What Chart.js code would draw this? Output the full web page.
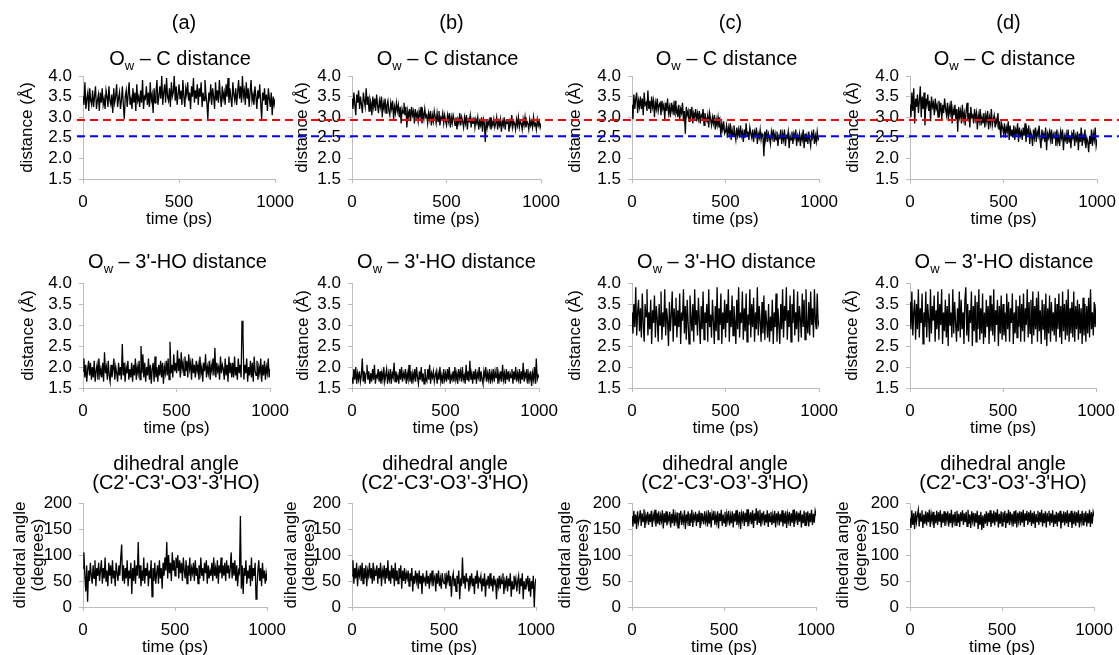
<!DOCTYPE html>
<html>
<head>
<meta charset="utf-8">
<script src="https://cdn.jsdelivr.net/npm/chart.js@4.4.1/dist/chart.umd.min.js"></script>
<style>
html, body { margin: 0; padding: 0; background: #fff; overflow: hidden; width: 1119px; height: 655px; }
body { position: relative; font-family: "Liberation Sans", Arial, sans-serif; color: #000; }
.lbl, .ttl { position: absolute; text-align: center; font-size: 20px; line-height: 20px; white-space: nowrap; width: 300px; }
.ttl sub { font-size: 13px; vertical-align: -5px; line-height: 0; }
.ttl.two { line-height: 19px; }
</style>
</head>
<body>
<script>
// time axis (ps), one sample every 5 ps
const TIME = [0,5,10,15,20,25,30,35,40,45,50,55,60,65,70,75,80,85,90,95,
  100,105,110,115,120,125,130,135,140,145,150,155,160,165,170,175,180,185,190,195,
  200,205,210,215,220,225,230,235,240,245,250,255,260,265,270,275,280,285,290,295,
  300,305,310,315,320,325,330,335,340,345,350,355,360,365,370,375,380,385,390,395,
  400,405,410,415,420,425,430,435,440,445,450,455,460,465,470,475,480,485,490,495,
  500,505,510,515,520,525,530,535,540,545,550,555,560,565,570,575,580,585,590,595,
  600,605,610,615,620,625,630,635,640,645,650,655,660,665,670,675,680,685,690,695,
  700,705,710,715,720,725,730,735,740,745,750,755,760,765,770,775,780,785,790,795,
  800,805,810,815,820,825,830,835,840,845,850,855,860,865,870,875,880,885,890,895,
  900,905,910,915,920,925,930,935,940,945,950,955,960,965,970,975,980,985,990,995,1000];

const TIME_TICKS = [0, 500, 1000];
const DIST_TICKS = [1.5, 2.0, 2.5, 3.0, 3.5, 4.0];
const ANGLE_TICKS = [0, 50, 100, 150, 200];
const COLUMN_LABELS = ['(a)', '(b)', '(c)', '(d)'];
const ROW_TITLES = ['O<sub>w</sub> – C distance', 'O<sub>w</sub> – 3\'-HO distance', 'dihedral angle<br>(C2\'-C3\'-O3\'-3\'HO)'];
const RED_LEVEL = 2.93;
const BLUE_LEVEL = 2.54;

// row 1: Ow - C distance (Å)
const OWC_A = [3.5,3.3,3.85,3.2,3.45,3.6,3.15,3.7,3.4,3.3,
  3.65,3.25,3.5,3.75,3.2,3.4,3.55,3.15,3.6,3.35,
  3.7,3.3,3.45,3.2,3.65,3.5,3.25,3.75,3.4,3.3,
  3.55,3.1,3.7,3.35,3.5,3.8,3.25,3.45,3.6,3.2,
  3.4,3.75,3.3,2.95,3.5,3.65,3.25,3.55,3.85,3.3,
  3.45,3.2,3.7,3.35,3.6,3.15,3.8,3.4,3.5,3.25,
  3.65,3.35,3.9,3.2,3.5,3.45,3.75,3.3,3.6,3.25,
  3.85,3.4,3.55,3.1,3.7,3.35,3.6,3.9,3.3,3.5,
  3.75,3.45,4.0,3.3,3.6,3.8,3.35,3.95,3.5,3.4,
  3.7,3.25,3.85,3.5,3.6,4.0,3.4,3.75,3.3,3.55,
  3.8,3.45,3.65,3.3,3.9,3.5,3.25,3.7,3.55,3.85,
  3.4,3.6,3.2,3.75,3.5,3.95,3.35,3.65,3.45,3.8,
  3.3,3.7,3.5,3.85,3.25,3.6,3.4,3.9,3.55,3.35,
  2.95,3.6,3.45,3.8,3.3,3.7,3.5,3.2,3.85,3.4,
  3.65,3.35,3.9,3.5,3.25,3.75,3.45,3.6,3.3,3.8,
  3.5,3.95,3.35,3.7,3.45,3.25,3.85,3.55,3.4,3.7,
  3.3,3.6,3.9,3.45,3.75,3.35,4.0,3.5,3.65,3.3,
  3.85,3.45,3.7,3.25,3.6,3.9,3.4,3.55,3.3,3.75,
  3.5,3.2,3.65,3.45,3.8,3.35,2.95,3.6,3.4,3.7,
  3.3,3.55,3.15,3.7,3.45,3.25,3.6,3.05,3.5,3.3,
  3.45];
const OWC_B = [3.45,3.2,3.6,3.3,3.05,3.55,3.35,3.65,3.2,3.5,
  3.3,3.1,3.6,3.4,3.25,3.7,3.3,3.5,3.15,3.45,
  3.35,3.05,3.5,3.25,3.45,3.15,3.55,3.3,3.1,3.4,
  3.25,3.5,3.0,3.35,3.2,3.45,3.1,3.3,3.4,3.15,
  3.05,3.35,3.2,3.4,2.95,3.25,3.1,3.35,3.15,3.3,
  3.0,3.25,2.85,3.2,3.1,3.35,3.05,3.25,2.75,3.15,
  3.0,3.2,2.9,3.25,3.05,3.15,2.85,3.2,3.0,3.1,
  2.9,3.15,3.0,3.25,2.85,3.1,2.95,3.2,3.0,3.05,
  2.85,3.1,2.95,3.15,2.8,3.05,2.9,3.15,3.0,2.85,
  3.1,2.9,3.15,2.8,3.0,2.95,3.1,2.85,3.05,2.9,
  2.8,3.05,2.9,3.1,2.75,3.0,2.85,3.05,2.95,2.8,
  3.0,2.7,2.95,2.85,3.1,2.8,3.0,2.9,2.75,3.0,
  2.85,3.05,2.7,2.95,2.9,3.05,2.75,2.95,2.85,3.0,
  2.75,2.95,2.85,3.0,2.7,2.9,2.8,3.0,2.65,2.95,
  2.85,2.4,2.95,2.75,2.9,2.8,3.0,2.7,2.9,2.8,
  2.95,2.75,2.85,3.0,2.7,2.9,2.8,2.95,2.65,2.9,
  2.8,3.0,2.7,2.9,2.85,2.95,2.65,2.9,2.8,3.05,
  2.75,2.9,2.85,2.7,2.95,2.8,3.0,2.75,2.9,2.85,
  2.7,2.95,2.8,3.0,2.75,2.9,2.85,2.7,2.95,2.8,
  2.9,2.75,3.0,2.8,2.85,2.7,2.95,2.8,2.9,2.75,
  2.85];
const OWC_C = [3.3,2.95,3.55,3.2,3.45,3.6,3.1,3.4,3.25,3.5,
  3.2,3.45,3.05,3.6,3.3,3.35,3.15,3.65,3.2,3.4,
  3.1,3.5,3.25,3.4,3.0,3.35,3.2,3.45,3.15,3.3,
  3.35,3.05,3.4,3.2,3.3,2.95,3.35,3.15,3.45,3.1,
  3.25,3.0,3.35,3.15,3.3,3.05,3.4,3.1,3.2,3.0,
  3.3,2.95,3.2,3.1,3.35,2.9,3.15,2.6,3.25,3.05,
  3.15,2.9,3.2,3.05,3.25,2.85,3.1,3.0,3.2,2.9,
  3.1,2.95,3.15,2.85,3.05,3.0,3.2,2.8,3.1,2.95,
  2.9,3.05,2.75,3.1,2.95,2.8,3.0,2.85,3.05,2.7,
  2.95,2.8,3.0,2.75,2.9,2.55,2.85,2.7,2.9,2.6,
  2.65,2.8,2.5,2.75,2.6,2.85,2.45,2.7,2.55,2.8,
  2.6,2.45,2.75,2.55,2.7,2.5,2.8,2.55,2.65,2.4,
  2.7,2.5,2.85,2.55,2.65,2.45,2.75,2.6,2.5,2.7,
  2.4,2.65,2.55,2.75,2.35,2.6,2.5,2.7,2.45,2.6,
  2.55,2.05,2.65,2.45,2.7,2.4,2.6,2.5,2.35,2.65,
  2.5,2.7,2.4,2.6,2.45,2.65,2.3,2.55,2.5,2.7,
  2.35,2.6,2.45,2.7,2.3,2.55,2.5,2.65,2.25,2.55,
  2.45,2.65,2.35,2.6,2.5,2.7,2.3,2.55,2.45,2.6,
  2.3,2.55,2.45,2.7,2.25,2.6,2.4,2.55,2.35,2.65,
  2.45,2.3,2.6,2.5,2.7,2.35,2.55,2.4,2.65,2.45,
  2.5];
const OWC_D = [3.3,3.0,3.6,3.15,3.7,2.85,3.45,3.25,3.55,3.1,
  3.4,3.75,3.0,3.5,3.2,3.6,2.8,3.45,3.3,3.55,
  3.15,3.4,2.9,3.5,3.25,3.35,3.05,3.45,3.2,3.3,
  3.0,3.4,3.15,3.35,2.95,3.3,3.1,3.45,3.2,3.05,
  3.35,2.9,3.25,3.1,3.4,2.85,3.2,3.05,3.3,2.95,
  3.2,2.65,3.25,3.0,3.15,2.85,3.3,2.95,3.1,2.8,
  3.15,3.35,2.9,3.1,2.75,3.25,3.0,3.05,2.85,3.2,
  2.95,3.1,2.7,3.05,2.9,3.2,2.8,3.0,2.85,3.1,
  2.75,3.05,2.9,3.15,2.7,3.0,2.85,3.2,2.8,2.95,
  3.05,2.75,2.95,2.85,3.1,2.7,2.9,2.5,2.85,2.75,
  2.6,2.85,2.5,2.75,2.65,2.9,2.45,2.8,2.55,2.7,
  2.5,2.8,2.45,2.7,2.6,2.85,2.4,2.75,2.55,2.65,
  2.45,2.75,2.55,2.85,2.4,2.7,2.6,2.8,2.35,2.65,
  2.55,2.3,2.7,2.5,2.75,2.4,2.65,2.55,2.8,2.45,
  2.25,2.7,2.5,2.6,2.4,2.75,2.2,2.6,2.5,2.65,
  2.45,2.7,2.35,2.6,2.5,2.65,2.3,2.7,2.4,2.55,
  2.3,2.65,2.5,2.7,2.2,2.55,2.45,2.6,2.35,2.7,
  2.4,2.55,2.25,2.6,2.5,2.7,2.3,2.55,2.45,2.65,
  2.2,2.6,2.4,2.75,2.3,2.55,2.45,2.7,2.25,2.5,
  2.4,2.15,2.55,2.35,2.7,2.3,2.6,2.45,2.75,2.3,
  2.45];

// row 2: Ow - 3'-HO distance (Å)
const OWHO_A = [1.9,2.2,1.75,2.05,1.65,1.95,2.15,1.8,2.1,1.7,
  2.0,1.75,2.15,1.65,1.9,2.05,1.7,2.2,1.8,1.95,
  1.75,2.1,1.65,2.35,1.85,2.0,1.7,2.15,1.8,1.65,
  2.05,1.75,1.95,2.2,1.7,2.0,1.85,1.65,2.1,1.8,
  2.0,1.7,2.55,1.8,2.1,1.65,2.0,1.85,2.15,1.7,
  1.95,1.75,2.1,1.65,2.05,1.8,2.2,1.7,2.0,1.85,
  2.15,1.7,2.5,1.85,2.3,1.75,2.1,1.65,2.0,1.8,
  2.2,1.7,2.05,1.6,1.95,2.1,1.65,2.25,1.75,2.0,
  1.65,2.05,1.8,2.15,1.75,2.1,1.6,2.0,1.85,2.15,
  1.8,2.2,1.7,2.6,1.85,2.05,1.75,2.3,1.9,2.1,
  1.85,2.4,1.9,2.2,1.75,2.35,1.95,2.1,1.8,2.25,
  1.9,2.15,1.75,2.3,1.95,2.1,1.7,2.2,1.85,2.05,
  1.75,2.15,1.9,2.05,1.7,2.25,1.85,2.0,1.65,2.1,
  1.9,2.3,1.75,2.0,1.85,2.15,1.7,2.05,1.9,2.2,
  1.8,2.45,1.75,2.1,1.9,2.0,1.7,2.25,1.85,2.05,
  1.95,1.7,2.2,1.8,2.05,1.65,2.25,1.85,2.1,1.75,
  2.1,1.75,2.25,1.8,2.0,1.7,2.2,1.85,2.05,1.75,
  3.1,2.8,1.7,2.05,1.85,2.2,1.65,2.0,1.8,2.15,
  1.75,2.1,1.65,2.25,1.9,1.8,2.15,1.7,2.0,1.85,
  2.2,1.65,2.05,1.8,2.15,1.7,2.0,1.85,2.2,1.75,
  1.95];
const OWHO_B = [1.75,1.6,1.95,1.7,2.0,1.6,1.85,1.7,1.9,1.65,
  1.8,2.2,1.65,1.9,1.6,1.85,2.05,1.7,1.9,1.6,
  1.85,1.65,1.95,1.7,2.05,1.6,1.8,1.75,1.95,1.65,
  1.9,1.6,1.85,1.7,2.0,1.65,1.8,1.95,1.6,1.85,
  1.7,1.95,1.6,1.85,1.75,2.1,1.65,1.9,1.7,1.8,
  1.6,1.95,1.7,2.0,1.65,1.85,1.75,1.95,1.6,1.85,
  1.7,2.05,1.65,1.9,1.6,1.85,1.7,1.95,1.65,2.0,
  1.75,1.6,1.9,1.7,2.0,1.65,1.85,1.6,1.95,1.7,
  1.65,1.95,1.7,2.05,1.6,1.85,1.75,1.9,1.65,1.8,
  1.9,1.6,1.85,1.7,2.0,1.65,1.8,1.6,1.95,1.7,
  1.85,1.65,1.95,1.7,2.0,1.6,1.8,1.7,1.9,1.65,
  2.0,1.7,1.85,1.6,1.95,1.75,1.9,1.65,2.0,1.7,
  1.8,1.6,2.05,1.7,1.9,1.65,2.15,1.7,1.85,1.6,
  1.9,1.7,1.95,1.6,1.85,1.75,2.0,1.65,1.9,1.7,
  1.6,1.9,1.75,2.0,1.65,1.85,1.7,1.95,1.6,1.85,
  1.7,1.95,1.65,1.9,1.75,2.0,1.6,1.85,1.7,1.9,
  1.65,2.05,1.7,1.85,1.6,1.95,1.7,1.9,1.65,1.85,
  1.75,1.95,1.6,1.9,1.7,2.0,1.65,1.85,1.7,1.95,
  1.6,1.9,1.7,2.1,1.65,1.85,1.75,1.95,1.6,1.85,
  1.7,1.9,1.55,1.85,1.7,2.0,1.6,2.2,1.7,1.8,
  1.75];
const OWHO_C = [3.3,2.8,3.5,2.95,3.9,2.75,3.3,3.6,2.85,3.4,
  2.7,3.75,3.05,2.6,3.5,3.2,3.85,2.75,3.3,2.9,
  3.6,2.55,3.35,3.05,3.7,2.7,3.45,3.15,2.6,3.5,
  3.0,3.8,2.65,3.3,2.95,3.85,2.75,3.4,3.1,2.5,
  3.55,2.85,3.25,3.8,2.6,3.4,3.0,3.65,2.7,3.35,
  2.95,3.75,2.55,3.3,3.1,3.85,2.8,3.45,2.65,3.6,
  3.05,2.55,3.7,3.2,2.85,3.5,2.6,3.85,3.0,3.35,
  2.75,3.65,3.1,2.55,3.45,2.9,3.8,2.65,3.3,3.05,
  3.5,2.6,3.85,2.95,3.25,2.7,3.6,3.1,2.55,3.45,
  2.85,3.9,2.65,3.4,3.0,3.75,2.55,3.3,2.9,3.6,
  2.7,3.5,3.05,3.85,2.6,3.35,2.95,3.7,2.75,3.45,
  3.1,2.55,3.6,2.9,3.9,2.7,3.3,3.05,3.8,2.65,
  3.4,2.85,3.75,2.6,3.25,3.0,3.85,2.7,3.5,2.95,
  3.65,2.6,3.3,2.9,3.9,2.75,3.45,3.1,2.6,3.55,
  2.8,3.7,2.65,3.35,3.05,2.7,3.5,2.6,3.2,2.85,
  3.6,2.55,3.3,2.95,3.75,2.6,3.4,3.0,2.55,3.5,
  2.9,3.85,2.7,3.45,3.1,3.9,2.65,3.35,2.95,3.7,
  2.6,3.5,3.05,3.85,2.75,3.3,2.9,3.8,2.6,3.45,
  3.15,2.7,3.75,2.95,3.6,2.65,3.85,3.05,2.8,3.55,
  2.75,3.8,3.0,3.4,2.7,3.85,3.1,2.9,3.75,3.0,
  3.1];
const OWHO_D = [3.55,2.9,3.8,2.75,3.3,3.6,2.65,3.5,2.9,3.85,
  2.7,3.4,3.05,3.75,2.55,3.3,2.95,3.8,2.7,3.5,
  3.15,2.6,3.85,2.8,3.45,3.1,3.7,2.6,3.35,2.9,
  3.8,2.65,3.5,3.0,3.85,2.55,3.3,2.85,3.6,2.7,
  3.45,2.5,3.75,3.0,3.3,2.7,3.85,2.8,3.55,3.05,
  2.6,3.4,2.85,3.8,2.7,3.6,2.9,3.3,2.55,3.6,
  3.9,2.75,3.5,2.6,3.35,3.05,3.8,2.5,3.45,2.85,
  3.7,2.6,3.55,2.9,3.85,2.65,3.4,2.8,3.75,2.55,
  3.3,2.7,3.6,2.95,3.45,2.55,3.7,2.85,3.5,2.75,
  3.85,2.6,3.35,3.0,3.6,2.5,3.45,2.8,3.7,2.65,
  3.5,2.75,3.3,2.6,3.75,2.9,3.55,2.6,3.4,3.05,
  3.75,2.55,3.3,2.8,3.6,2.7,3.45,2.95,3.7,2.6,
  3.5,2.85,3.75,2.6,3.4,3.0,3.85,2.7,3.55,2.8,
  3.6,2.55,3.8,2.75,3.45,2.9,3.65,2.6,3.8,2.85,
  3.35,2.55,3.6,2.9,3.5,2.65,3.75,2.5,3.4,2.8,
  3.7,2.6,3.55,2.85,3.3,2.75,3.65,2.6,3.5,2.9,
  3.75,2.7,3.45,2.55,3.8,2.85,3.5,2.65,3.6,2.75,
  3.85,2.6,3.4,2.8,3.55,2.7,3.8,2.6,3.45,2.9,
  3.6,2.65,3.5,2.8,3.4,2.55,3.65,2.75,3.5,2.6,
  3.45,2.8,3.65,2.7,3.85,2.9,3.3,2.75,3.55,2.95,
  3.5];

// row 3: dihedral angle C2'-C3'-O3'-3'HO (degrees)
const DIH_A = [75,105,60,30,80,10,70,50,85,60,
  45,80,55,90,40,75,60,85,50,70,
  90,45,75,55,95,50,70,40,85,60,
  80,45,90,55,70,40,85,65,50,80,
  60,95,120,50,80,45,75,55,90,40,
  70,55,85,25,75,50,90,45,80,60,
  125,55,80,40,70,50,95,45,75,60,
  85,40,70,55,90,20,75,50,85,45,
  65,80,45,90,55,75,35,85,60,95,
  70,125,55,100,65,85,50,105,70,90,
  60,95,75,100,55,90,65,85,50,95,
  70,55,90,45,80,60,95,50,75,65,
  85,50,90,60,75,45,80,55,95,60,
  75,50,85,65,90,45,80,55,70,60,
  85,50,95,60,75,55,90,45,80,65,
  95,55,80,60,85,50,90,65,80,55,
  75,105,55,85,60,90,50,80,40,70,
  65,175,35,80,25,75,60,90,45,70,
  55,80,40,95,50,75,60,85,15,35,
  70,90,50,75,40,85,55,70,45,65,
  50];
const DIH_B = [60,90,45,75,55,85,40,70,60,80,
  50,85,45,75,55,80,40,70,60,85,
  55,75,45,85,50,70,60,80,45,75,
  55,85,40,70,60,80,45,75,55,90,
  50,70,45,80,55,75,40,85,50,70,
  45,75,55,80,35,70,50,75,45,65,
  55,70,40,65,50,75,30,60,45,70,
  50,65,35,70,45,60,25,65,50,55,
  40,70,45,60,35,65,50,70,40,55,
  60,30,65,45,70,40,55,35,65,50,
  45,65,35,60,50,70,40,60,20,55,
  65,40,55,30,60,45,70,15,55,40,
  95,45,60,35,65,50,55,30,60,45,
  65,40,55,25,60,45,70,35,55,50,
  60,30,55,40,65,20,50,45,60,35,
  65,40,55,30,60,45,50,15,55,40,
  60,35,55,45,65,25,50,40,60,30,
  55,40,65,20,50,35,60,45,55,30,
  50,60,25,55,40,65,15,50,35,55,
  45,60,30,55,20,50,35,60,0,45,
  55];
const DIH_C = [175,155,185,160,178,150,184,162,172,186,
  156,180,164,188,152,176,166,183,158,179,
  163,185,154,178,168,187,155,181,160,184,
  158,176,165,186,151,180,162,184,157,175,
  166,183,153,179,161,188,156,177,164,182,
  152,181,167,185,158,174,163,186,150,178,
  165,184,157,180,162,187,154,176,168,183,
  156,179,163,185,152,181,166,174,159,184,
  164,177,155,186,160,182,153,179,167,185,
  158,176,163,184,151,180,165,187,156,178,
  162,183,154,179,166,185,157,176,161,184,
  153,180,164,186,158,177,162,183,150,179,
  167,184,156,181,163,188,155,178,165,182,
  159,186,152,180,166,190,158,185,163,187,
  155,181,167,184,157,178,162,186,154,180,
  164,183,158,177,161,185,153,180,166,184,
  157,179,163,186,155,181,160,184,152,178,
  165,183,156,180,162,187,154,179,167,184,
  158,181,164,186,153,178,161,185,157,182,
  166,184,155,180,163,187,158,179,162,185,
  176];
const DIH_D = [170,152,186,158,180,150,184,163,176,187,
  155,181,165,186,152,178,160,184,157,182,
  163,187,154,179,166,183,152,177,161,185,
  158,182,164,186,153,179,162,184,156,181,
  166,184,155,180,161,187,153,178,164,183,
  157,185,162,179,154,182,165,186,158,180,
  163,183,155,187,160,178,152,184,166,181,
  155,180,162,185,150,177,158,183,148,176,
  152,179,160,184,156,181,163,186,154,180,
  161,185,157,182,164,188,153,179,160,184,
  156,182,163,185,152,180,161,187,158,183,
  164,179,155,184,160,186,153,181,165,184,
  157,183,162,187,154,180,166,185,158,182,
  163,186,156,181,160,184,152,179,164,185,
  158,182,163,187,155,180,161,184,153,181,
  165,185,157,180,162,186,154,178,160,183,
  155,181,164,185,151,179,162,184,157,182,
  161,186,154,180,163,185,152,181,159,184,
  156,182,162,186,153,179,164,185,158,181,
  163,184,155,180,161,187,154,182,160,183,
  175];

const SERIES = [
  [OWC_A, OWC_B, OWC_C, OWC_D],
  [OWHO_A, OWHO_B, OWHO_C, OWHO_D],
  [DIH_A, DIH_B, DIH_C, DIH_D]
];

// page layout (px)
const AXIS_X = [83, 352, 632, 910];
const RIGHT_X = [[277, 543, 821, 1099], [272, 541, 821, 1098], [269, 538, 818, 1096]];
const YBOX_W = [[66, 60, 67, 67], [65, 59, 67, 68], [72, 70, 76, 76]];
const ROW_Y = [{ top: 76, bottom: 179 }, { top: 283, bottom: 388 }, { top: 503, bottom: 607 }];
const TITLE_Y = [48, 251, 454];
const LABEL_Y = 12;
const PAD_T = 22, PAD_R = 26, XBOX_H = 51;
const AXIS_GRAY = '#bdbdbd';

Chart.defaults.font.family = '"Liberation Sans", Arial, sans-serif';
Chart.defaults.font.size = 17;
Chart.defaults.color = '#000';

const refLines = {
  id: 'refLines',
  afterDatasetsDraw(chart, args, opts) {
    if (!opts.levels) return;
    const { ctx, chartArea, scales: { y } } = chart;
    const x0 = opts.first ? chartArea.left - 6 : 0;
    const x1 = chart.width;
    ctx.save();
    ctx.lineWidth = 2;
    ctx.setLineDash([8, 5]);
    ctx.lineDashOffset = opts.pageLeft + x0 - opts.start;
    opts.levels.forEach(l => {
      const py = y.getPixelForValue(l.value);
      ctx.strokeStyle = l.color;
      ctx.beginPath();
      ctx.moveTo(x0, py);
      ctx.lineTo(x1, py);
      ctx.stroke();
    });
    ctx.restore();
  }
};

function addText(cls, html, cx, top) {
  const d = document.createElement('div');
  d.className = cls;
  d.innerHTML = html;
  d.style.left = (cx - 150) + 'px';
  d.style.top = top + 'px';
  document.body.appendChild(d);
}

function makePanel(row, col) {
  const W = YBOX_W[row][col];
  const axisX = AXIS_X[col];
  const right = RIGHT_X[row][col];
  const { top, bottom } = ROW_Y[row];
  const left = axisX - W;
  const cw = W + (right - axisX) + PAD_R;
  const ch = PAD_T + (bottom - top) + XBOX_H;

  const canvas = document.createElement('canvas');
  canvas.width = cw;
  canvas.height = ch;
  canvas.style.cssText = `position:absolute;left:${left}px;top:${top - PAD_T}px;width:${cw}px;height:${ch}px`;
  document.body.appendChild(canvas);

  const isAngle = row === 2;
  const yTicks = isAngle ? ANGLE_TICKS : DIST_TICKS;
  const values = SERIES[row][col];

  new Chart(canvas, {
    type: 'line',
    data: {
      datasets: [{
        data: values.map((v, i) => ({ x: TIME[i], y: v })),
        borderColor: '#000',
        borderWidth: 1.3,
        pointRadius: 0,
        tension: 0
      }]
    },
    options: {
      responsive: false,
      animation: false,
      events: [],
      layout: { padding: { top: PAD_T, right: PAD_R, left: 0, bottom: 0 } },
      plugins: {
        legend: { display: false },
        tooltip: { enabled: false },
        refLines: row === 0 ? {
          levels: [{ value: RED_LEVEL, color: '#ff0000' }, { value: BLUE_LEVEL, color: '#0000ff' }],
          first: col === 0,
          pageLeft: left,
          start: AXIS_X[0] - 6
        } : {}
      },
      scales: {
        x: {
          type: 'linear', min: 0, max: 1000,
          afterBuildTicks: s => { s.ticks = TIME_TICKS.map(v => ({ value: v })); },
          afterFit: s => { s.height = XBOX_H; },
          grid: { display: true, drawOnChartArea: false, drawTicks: true, tickLength: 4, color: AXIS_GRAY },
          border: { display: true, color: AXIS_GRAY, width: 1 },
          ticks: { maxRotation: 0, autoSkip: false, padding: 9, callback: v => String(v) },
          title: { display: true, text: 'time (ps)', padding: 0 }
        },
        y: {
          min: yTicks[0], max: yTicks[yTicks.length - 1],
          afterBuildTicks: s => { s.ticks = yTicks.map(v => ({ value: v })); },
          afterFit: s => { s.width = W; },
          grid: { display: true, drawOnChartArea: false, drawTicks: true, tickLength: 4, color: AXIS_GRAY },
          border: { display: true, color: AXIS_GRAY, width: 1 },
          ticks: { autoSkip: false, padding: 7, callback: v => isAngle ? String(v) : v.toFixed(1) },
          title: {
            display: true,
            text: isAngle ? ['dihedral angle', '(degrees)'] : 'distance (Å)',
            padding: 0,
            font: { size: 17, lineHeight: isAngle ? 18 / 17 : 1.2 }
          }
        }
      }
    },
    plugins: [refLines]
  });

  const cx = (axisX + right) / 2;
  addText(isAngle ? 'ttl two' : 'ttl', ROW_TITLES[row], cx, TITLE_Y[row]);
  if (row === 0) addText('lbl', COLUMN_LABELS[col], cx + 4, LABEL_Y);
}

for (let r = 0; r < 3; r++) {
  for (let c = 0; c < 4; c++) makePanel(r, c);
}
</script>
</body>
</html>
